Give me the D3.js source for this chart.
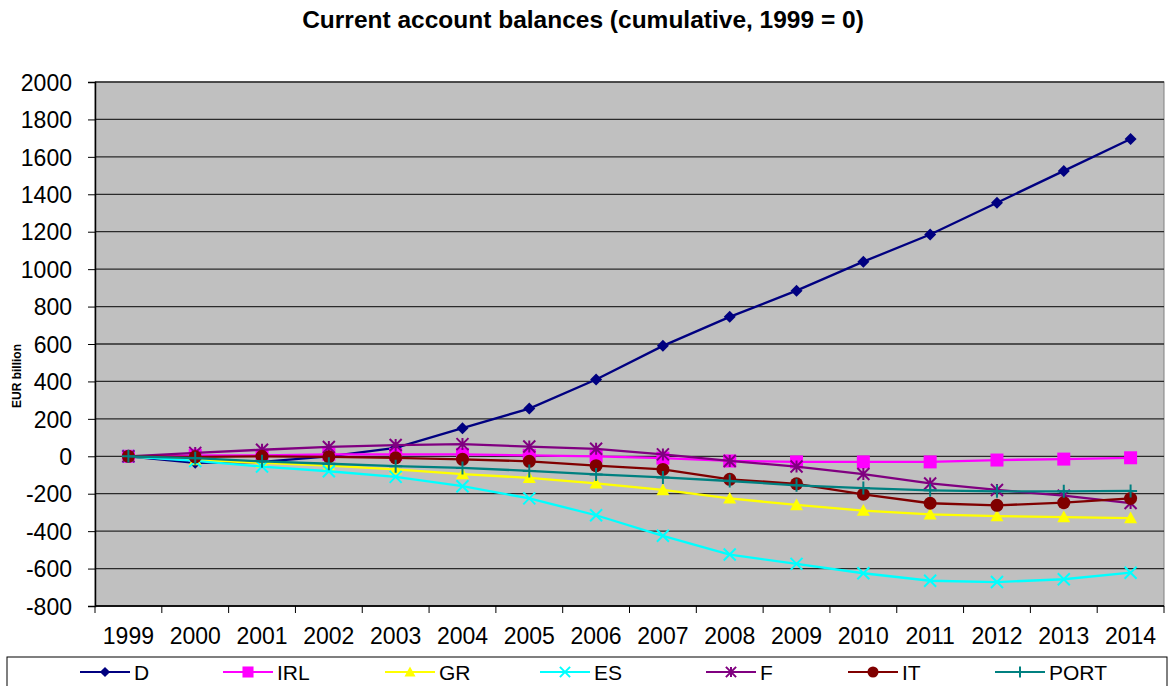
<!DOCTYPE html>
<html>
<head>
<meta charset="utf-8">
<script src="https://cdn.jsdelivr.net/npm/d3@7"></script>
<style>
  body { margin: 0; background: #fff; }
  text { font-family: "Liberation Sans", Arial, sans-serif; }
</style>
</head>
<body>
<div id="chart"></div>
<script>
// Years on the x axis
const years = ['1999', '2000', '2001', '2002', '2003', '2004', '2005', '2006',
  '2007', '2008', '2009', '2010', '2011', '2012', '2013', '2014'];

// Cumulative current account balances, EUR billion
const D = [0, -35, -30, 0, 45, 150, 255, 410, 590, 745, 885, 1040, 1185, 1355, 1525, 1695];
const IRL = [0, 5, 5, 10, 10, 10, 5, 0, -10, -25, -30, -30, -30, -20, -15, -8];
const GR = [0, -20, -35, -50, -70, -95, -115, -145, -180, -225, -260, -290, -310, -320, -325, -330];
const ES = [0, -25, -55, -80, -110, -160, -225, -315, -425, -525, -575, -625, -665, -672, -657, -622];
const F = [0, 18, 35, 50, 60, 65, 52, 40, 10, -25, -55, -95, -145, -180, -210, -250];
const IT = [0, -3, 0, -3, -8, -16, -27, -50, -70, -123, -147, -203, -251, -262, -248, -225];
const PORT = [0, -10, -27, -40, -53, -62, -78, -97, -113, -132, -155, -170, -182, -187, -187, -185];

const yTicks = [-800, -600, -400, -200, 0, 200, 400, 600, 800, 1000, 1200, 1400, 1600, 1800, 2000];

const series = [
  {name: 'D', values: D, color: '#000080', marker: 'diamond'},
  {name: 'IRL', values: IRL, color: '#FF00FF', marker: 'square'},
  {name: 'GR', values: GR, color: '#FFFF00', marker: 'triangle'},
  {name: 'ES', values: ES, color: '#00FFFF', marker: 'cross'},
  {name: 'F', values: F, color: '#800080', marker: 'star'},
  {name: 'IT', values: IT, color: '#800000', marker: 'circle'},
  {name: 'PORT', values: PORT, color: '#008080', marker: 'plus'},
];

const width = 1171;
const height = 686;
const plot = {left: 95, right: 1164, top: 82, bottom: 606};

const svg = d3.select('#chart')
  .append('svg')
  .attr('width', width)
  .attr('height', height);

const x = d3.scaleBand()
  .domain(years)
  .range([plot.left, plot.right]);

const y = d3.scaleLinear()
  .domain([-800, 2000])
  .range([plot.bottom, plot.top]);

// Title
svg.append('text')
  .attr('x', 583)
  .attr('y', 28)
  .attr('text-anchor', 'middle')
  .attr('font-size', 24.5)
  .attr('font-weight', 'bold')
  .text('Current account balances (cumulative, 1999 = 0)');

// Plot background
svg.append('rect')
  .attr('x', plot.left)
  .attr('y', plot.top)
  .attr('width', plot.right - plot.left)
  .attr('height', plot.bottom - plot.top)
  .attr('fill', '#C0C0C0')
  .attr('stroke', '#808080')
  .attr('stroke-width', 1);

// Horizontal gridlines
svg.append('g')
  .selectAll('line')
  .data(yTicks)
  .enter()
  .append('line')
  .attr('x1', plot.left)
  .attr('x2', plot.right)
  .attr('y1', d => y(d))
  .attr('y2', d => y(d))
  .attr('stroke', '#2a2a2a')
  .attr('stroke-width', 1.3);

// Y axis
const yAxis = svg.append('g')
  .attr('transform', `translate(${plot.left},0)`)
  .call(d3.axisLeft(y).tickValues(yTicks).tickSize(7).tickPadding(16).tickFormat(d => String(d)));
yAxis.select('.domain').attr('stroke', '#000').attr('stroke-width', 1.5);
yAxis.selectAll('.tick line').attr('stroke', '#000');
yAxis.selectAll('text')
  .attr('font-size', 23)
  .attr('font-family', '"Liberation Sans", Arial, sans-serif')
  .attr('fill', '#000')
  .attr('dy', '0.36em');

// X axis: ticks at the band edges
const xAxis = svg.append('g')
  .attr('transform', `translate(0,${plot.bottom})`);
xAxis.append('line')
  .attr('x1', plot.left)
  .attr('x2', plot.right)
  .attr('stroke', '#000')
  .attr('stroke-width', 1.5);
xAxis.selectAll('.edge')
  .data(years.concat(['end']))
  .enter()
  .append('line')
  .attr('class', 'edge')
  .attr('x1', (d, i) => plot.left + i * x.step())
  .attr('x2', (d, i) => plot.left + i * x.step())
  .attr('y1', 0)
  .attr('y2', 7)
  .attr('stroke', '#000');
xAxis.selectAll('.lab')
  .data(years)
  .enter()
  .append('text')
  .attr('class', 'lab')
  .attr('x', d => x(d) + x.bandwidth() / 2)
  .attr('y', 38)
  .attr('text-anchor', 'middle')
  .attr('font-size', 23)
  .text(d => d);

// Y axis title
svg.append('text')
  .attr('transform', 'translate(21,376) rotate(-90)')
  .attr('text-anchor', 'middle')
  .attr('font-size', 12)
  .attr('font-weight', 'bold')
  .text('EUR billion');

// Marker shapes
function markerPath(type, s) {
  const h = s / 2;
  switch (type) {
    case 'diamond': return `M0,${-h}L${h},0L0,${h}L${-h},0Z`;
    case 'square': return `M${-h},${-h}H${h}V${h}H${-h}Z`;
    case 'triangle': return `M0,${-h}L${h},${h * 0.8}L${-h},${h * 0.8}Z`;
    case 'cross': return `M${-h},${-h}L${h},${h}M${-h},${h}L${h},${-h}`;
    case 'star': return `M${-h},${-h}L${h},${h}M${-h},${h}L${h},${-h}M0,${-h}V${h}`;
    case 'plus': return `M${-h},0H${h}M0,${-h}V${h}`;
    default: return '';
  }
}
const filled = t => t === 'diamond' || t === 'square' || t === 'triangle';

function drawMarker(g, type, color, size) {
  if (type === 'circle') {
    return g.append('circle').attr('r', size / 2).attr('fill', color);
  }
  return g.append('path')
    .attr('d', markerPath(type, size))
    .attr('fill', filled(type) ? color : 'none')
    .attr('stroke', color)
    .attr('stroke-width', filled(type) ? 0 : 2);
}

const markerSize = {diamond: 12, square: 13, triangle: 13, cross: 12, star: 12, circle: 13, plus: 13};

const line = d3.line()
  .x((d, i) => x(years[i]) + x.bandwidth() / 2)
  .y(d => y(d));

series.forEach(s => {
  const g = svg.append('g');
  g.append('path')
    .datum(s.values)
    .attr('d', line)
    .attr('fill', 'none')
    .attr('stroke', s.color)
    .attr('stroke-width', 2.3);
  s.values.forEach((v, i) => {
    const mg = g.append('g')
      .attr('transform', `translate(${x(years[i]) + x.bandwidth() / 2},${y(v)})`);
    drawMarker(mg, s.marker, s.color, markerSize[s.marker]);
  });
});

// Legend
const legend = svg.append('g');
legend.append('rect')
  .attr('x', 7)
  .attr('y', 657)
  .attr('width', 1160)
  .attr('height', 40)
  .attr('fill', '#fff')
  .attr('stroke', '#000')
  .attr('stroke-width', 1);

const legendX = [80, 223, 385, 540, 706, 848, 995];
series.forEach((s, i) => {
  const item = legend.append('g')
    .attr('transform', `translate(${legendX[i]},672)`);
  item.append('line')
    .attr('x1', 0)
    .attr('x2', 50)
    .attr('stroke', s.color)
    .attr('stroke-width', 2.2);
  const mg = item.append('g').attr('transform', 'translate(25,0)');
  drawMarker(mg, s.marker, s.color, markerSize[s.marker] * 0.85);
  item.append('text')
    .attr('x', 54)
    .attr('y', 8)
    .attr('font-size', 21)
    .text(s.name);
});
</script>
</body>
</html>
